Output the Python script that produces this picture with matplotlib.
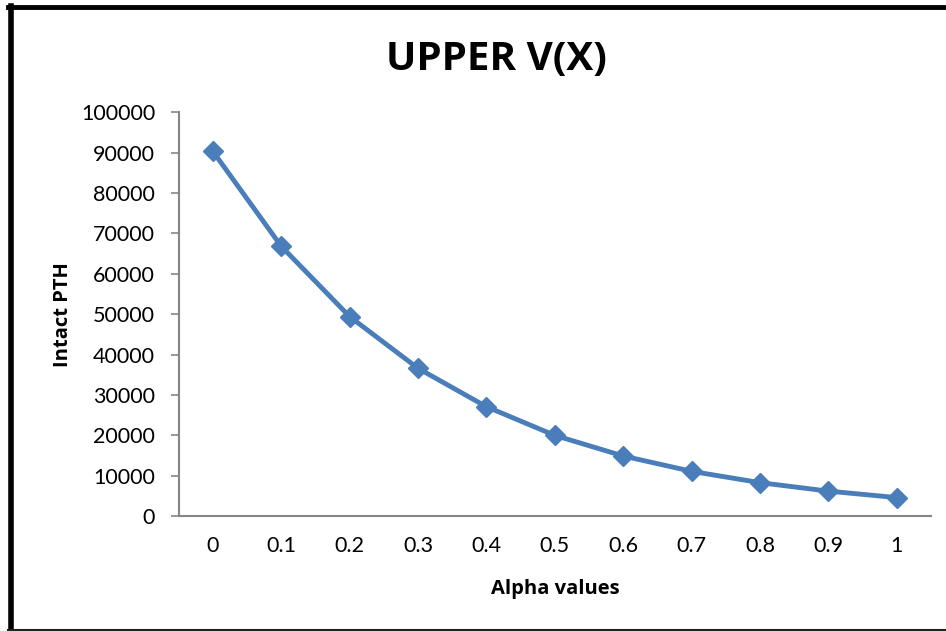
import matplotlib
matplotlib.use("Agg")
import matplotlib.pyplot as plt
from matplotlib.lines import Line2D

# Data
alpha_labels = ["0", "0.1", "0.2", "0.3", "0.4", "0.5", "0.6", "0.7", "0.8", "0.9", "1"]
intact_pth = [90300, 66800, 49400, 36600, 27100, 20000, 14900, 11100, 8300, 6200, 4600]
y_ticks = list(range(0, 100001, 10000))

plt.rcParams['font.family'] = ['Lato', 'DejaVu Sans']

fig = plt.figure(figsize=(9.46, 6.31), dpi=100)
ax = fig.add_axes([0.189, 0.182, 0.795, 0.64])

x = list(range(len(alpha_labels)))
ax.plot(x, intact_pth, color='#4A7EBB', linewidth=3.5, marker='D', markersize=10,
        markerfacecolor='#4A7EBB', markeredgecolor='#4A7EBB')

ax.set_xlim(-0.5, len(alpha_labels) - 0.5)
ax.set_ylim(0, 100000)
ax.set_yticks(y_ticks)
ax.set_yticklabels([str(v) for v in y_ticks], fontsize=15.5)
ax.set_xticks(x)
ax.set_xticklabels(alpha_labels, fontsize=15.5)
ax.tick_params(axis='x', length=0, pad=14)
ax.tick_params(axis='y', length=6, color='#868686', width=1.2, pad=11)

for side in ['top', 'right']:
    ax.spines[side].set_visible(False)
for side in ['left', 'bottom']:
    ax.spines[side].set_color('#868686')
    ax.spines[side].set_linewidth(1.5)

label_font = dict(family=['Open Sans', 'DejaVu Sans'], fontsize=14.5, fontweight='bold')
ax.set_xlabel("Alpha values", labelpad=17, **label_font)
ax.set_ylabel("Intact PTH", labelpad=6, **label_font)
fig.text(0.525, 0.905, "UPPER V(X)", ha='center', va='center', fontsize=29, fontweight='bold',
         family=['Open Sans', 'DejaVu Sans'])

# Outer chart border: thick left and top, thin bottom
fig.lines.append(Line2D([0.0111, 0.0111], [0.0, 0.9905], transform=fig.transFigure,
                        color='black', linewidth=4))
fig.lines.append(Line2D([0.0085, 1.0], [0.9885, 0.9885], transform=fig.transFigure,
                        color='black', linewidth=3.5))
fig.lines.append(Line2D([0.0085, 1.0], [0.0015, 0.0015], transform=fig.transFigure,
                        color='#222222', linewidth=1.5))

fig.savefig("out.png", dpi=100)
